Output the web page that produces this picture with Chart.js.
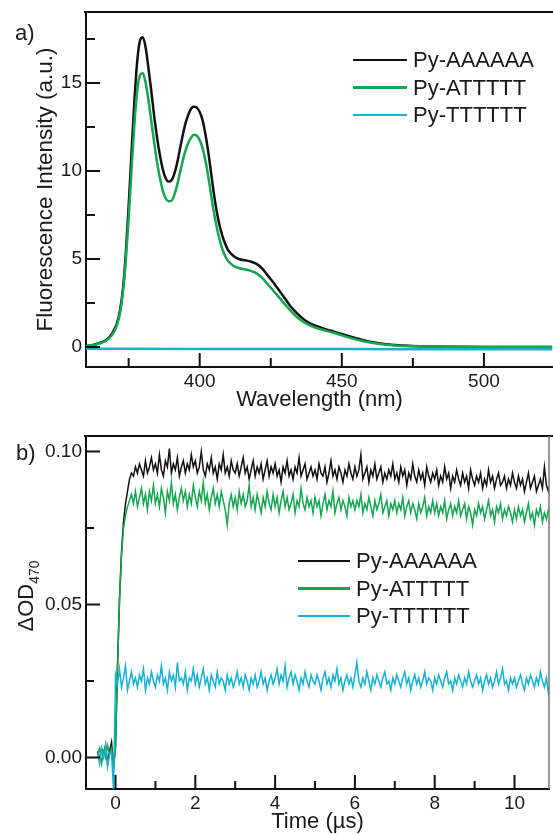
<!DOCTYPE html>
<html>
<head>
<meta charset="utf-8">
<script src="https://cdn.jsdelivr.net/npm/chart.js@4.4.1/dist/chart.umd.min.js"></script>
<style>
body { margin: 0; background: #fff; width: 553px; height: 834px; overflow: hidden; position: relative;
       font-family: "Liberation Sans", Arial, sans-serif; color: #1a1a1a; }
#boxA { position: absolute; left: 0; top: 0; width: 553px; height: 420px; }
#boxB { position: absolute; left: 0; top: 420px; width: 553px; height: 414px; }
.tag { position: absolute; font-size: 22px; line-height: 22px; }
.legend { position: absolute; font-size: 22px; line-height: 27px; }
.legend .row { display: flex; align-items: center; height: 27.5px; }
.legend .ln { display: inline-block; height: 2.5px; margin-right: 6px; }
</style>
</head>
<body>
<div id="boxA"><canvas id="chartA"></canvas></div>
<div id="boxB"><canvas id="chartB"></canvas></div>
<div class="tag" style="left:15px; top:22px;">a)</div>
<div class="tag" style="left:16px; top:442px;">b)</div>
<div class="legend" id="legendA" style="left:353px; top:46px;"></div>
<div class="legend" id="legendB" style="left:298px; top:547px;"></div>
<script>
// ---- panel a: fluorescence spectra ----
var wavelength = [360, 362, 364, 366, 368, 370, 371, 372, 373, 374, 375, 376, 377, 378, 379, 380,
    381, 382, 383, 384, 385, 386, 387, 388, 389, 390, 391, 392, 393, 394, 395, 396, 397, 398, 399, 400,
    401, 402, 403, 404, 405, 406, 407, 408, 409, 410, 412, 414, 416, 418, 420, 422, 424, 426, 428, 430,
    432, 434, 436, 438, 440, 442, 444, 446, 448, 450, 452, 455, 458, 461, 465, 470, 475, 480, 490, 500, 510, 524];
var flAAAAAA = [0.05, 0.10, 0.18, 0.30, 0.52, 1.0, 1.4, 2.1, 3.3, 5.3, 8.0, 11.0, 13.9, 16.2, 17.4, 17.6,
    17.0, 15.8, 14.5, 13.1, 11.9, 10.9, 10.1, 9.6, 9.4, 9.45, 9.8, 10.4, 11.2, 12.0, 12.7, 13.2, 13.55, 13.65, 13.6, 13.35,
    12.9, 12.1, 11.1, 9.9, 8.7, 7.7, 6.9, 6.3, 5.85, 5.5, 5.15, 4.98, 4.92, 4.85, 4.72, 4.45, 4.05, 3.65, 3.2, 2.75,
    2.3, 1.95, 1.65, 1.42, 1.25, 1.13, 1.02, 0.93, 0.83, 0.74, 0.64, 0.5, 0.37, 0.27, 0.17, 0.09, 0.05, 0.03, 0.01, 0.0, 0.0, 0.0];
var flATTTTT = [0.05, 0.09, 0.16, 0.27, 0.47, 0.9, 1.3, 1.95, 3.1, 4.9, 7.3, 10.0, 12.6, 14.5, 15.45, 15.55,
    15.0, 14.0, 12.8, 11.6, 10.5, 9.6, 8.9, 8.45, 8.28, 8.3, 8.6, 9.15, 9.85, 10.55, 11.15, 11.6, 11.9, 12.05, 12.0, 11.75,
    11.3, 10.6, 9.7, 8.65, 7.65, 6.8, 6.1, 5.55, 5.15, 4.88, 4.6, 4.47, 4.4, 4.32, 4.18, 3.92, 3.55, 3.18, 2.8, 2.42,
    2.05, 1.73, 1.47, 1.28, 1.14, 1.03, 0.93, 0.85, 0.76, 0.66, 0.56, 0.43, 0.31, 0.22, 0.14, 0.07, 0.04, 0.02, 0.01, 0.0, 0.0, 0.0];
var wavelengthT = [360, 400, 450, 500, 524];
var flTTTTTT = [-0.10, -0.12, -0.12, -0.13, -0.13];

var xTicksA = [400, 450, 500];
var xMinorA = [375, 425, 475];
var yTicksA = [0, 5, 10, 15];
var yMinorA = [2.5, 7.5, 12.5, 17.5];

// ---- panel b: transient absorption at 470 nm ----
var timeUs = [-0.45, -0.4, -0.35, -0.3, -0.25, -0.2, -0.15, -0.1, -0.05,
    0, 0.05, 0.1, 0.15, 0.2, 0.25, 0.3, 0.35, 0.4, 0.45, 0.5, 0.55, 0.6, 0.65, 0.7, 0.75, 0.8, 0.85, 0.9, 0.95,
    1, 1.05, 1.1, 1.15, 1.2, 1.25, 1.3, 1.35, 1.4, 1.45, 1.5, 1.55, 1.6, 1.65, 1.7, 1.75, 1.8, 1.85, 1.9, 1.95,
    2, 2.05, 2.1, 2.15, 2.2, 2.25, 2.3, 2.35, 2.4, 2.45, 2.5, 2.55, 2.6, 2.65, 2.7, 2.75, 2.8, 2.85, 2.9, 2.95,
    3, 3.05, 3.1, 3.15, 3.2, 3.25, 3.3, 3.35, 3.4, 3.45, 3.5, 3.55, 3.6, 3.65, 3.7, 3.75, 3.8, 3.85, 3.9, 3.95,
    4, 4.05, 4.1, 4.15, 4.2, 4.25, 4.3, 4.35, 4.4, 4.45, 4.5, 4.55, 4.6, 4.65, 4.7, 4.75, 4.8, 4.85, 4.9, 4.95,
    5, 5.05, 5.1, 5.15, 5.2, 5.25, 5.3, 5.35, 5.4, 5.45, 5.5, 5.55, 5.6, 5.65, 5.7, 5.75, 5.8, 5.85, 5.9, 5.95,
    6, 6.05, 6.1, 6.15, 6.2, 6.25, 6.3, 6.35, 6.4, 6.45, 6.5, 6.55, 6.6, 6.65, 6.7, 6.75, 6.8, 6.85, 6.9, 6.95,
    7, 7.05, 7.1, 7.15, 7.2, 7.25, 7.3, 7.35, 7.4, 7.45, 7.5, 7.55, 7.6, 7.65, 7.7, 7.75, 7.8, 7.85, 7.9, 7.95,
    8, 8.05, 8.1, 8.15, 8.2, 8.25, 8.3, 8.35, 8.4, 8.45, 8.5, 8.55, 8.6, 8.65, 8.7, 8.75, 8.8, 8.85, 8.9, 8.95,
    9, 9.05, 9.1, 9.15, 9.2, 9.25, 9.3, 9.35, 9.4, 9.45, 9.5, 9.55, 9.6, 9.65, 9.7, 9.75, 9.8, 9.85, 9.9, 9.95,
    10, 10.05, 10.1, 10.15, 10.2, 10.25, 10.3, 10.35, 10.4, 10.45, 10.5, 10.55, 10.6, 10.65, 10.7, 10.75, 10.8, 10.85, 10.9, 10.95];
var odAAAAAA = [0.002, -0.001, 0.003, 0.001, 0.004, -0.002, 0.002, 0.005, -0.003,
    0.004, 0.030, 0.052, 0.067, 0.077, 0.083, 0.087, 0.091, 0.093, 0.092, 0.095, 0.093, 0.096, 0.094, 0.092, 0.097, 0.093, 0.095, 0.098, 0.094,
    0.096, 0.093, 0.099, 0.094, 0.092, 0.097, 0.095, 0.101, 0.093, 0.096, 0.094, 0.098, 0.092, 0.095, 0.097, 0.093, 0.096, 0.094, 0.099, 0.095,
    0.097, 0.093, 0.095, 0.100, 0.094, 0.092, 0.096, 0.094, 0.098, 0.093, 0.095, 0.091, 0.096, 0.094, 0.099, 0.093, 0.095, 0.092, 0.097, 0.094,
    0.093, 0.096, 0.092, 0.095, 0.098, 0.093, 0.095, 0.091, 0.094, 0.097, 0.092, 0.095, 0.093, 0.096, 0.091, 0.094, 0.097, 0.092, 0.095, 0.093,
    0.096, 0.092, 0.094, 0.090, 0.095, 0.093, 0.097, 0.092, 0.094, 0.091, 0.095, 0.093, 0.098, 0.092, 0.094, 0.096, 0.091, 0.093, 0.095, 0.092,
    0.094, 0.091, 0.096, 0.093, 0.092, 0.095, 0.090, 0.093, 0.097, 0.092, 0.094, 0.091, 0.095, 0.093, 0.090, 0.094, 0.092, 0.096, 0.093, 0.091,
    0.095, 0.092, 0.094, 0.099, 0.091, 0.093, 0.095, 0.090, 0.094, 0.092, 0.096, 0.091, 0.093, 0.095, 0.090, 0.093, 0.091, 0.094, 0.092, 0.096,
    0.091, 0.093, 0.090, 0.095, 0.092, 0.094, 0.089, 0.093, 0.091, 0.096, 0.092, 0.090, 0.094, 0.091, 0.093, 0.089, 0.095, 0.092, 0.090, 0.093,
    0.091, 0.094, 0.089, 0.092, 0.090, 0.095, 0.091, 0.093, 0.088, 0.092, 0.090, 0.094, 0.091, 0.089, 0.093, 0.090, 0.092, 0.088, 0.094, 0.091,
    0.089, 0.092, 0.090, 0.093, 0.088, 0.091, 0.089, 0.094, 0.090, 0.092, 0.088, 0.091, 0.093, 0.089, 0.090, 0.092, 0.088, 0.091, 0.089, 0.093,
    0.090, 0.088, 0.092, 0.089, 0.091, 0.087, 0.090, 0.093, 0.088, 0.090, 0.092, 0.087, 0.089, 0.091, 0.088, 0.095, 0.089, 0.087, 0.090, 0.088];
var odATTTTT = [0.001, 0.003, -0.002, 0.002, 0.000, 0.004, 0.001, 0.003, -0.004,
    0.003, 0.029, 0.051, 0.066, 0.075, 0.079, 0.082, 0.084, 0.086, 0.083, 0.087, 0.082, 0.085, 0.088, 0.083, 0.086, 0.081, 0.087, 0.084, 0.089,
    0.083, 0.086, 0.082, 0.088, 0.085, 0.080, 0.087, 0.084, 0.090, 0.083, 0.086, 0.081, 0.085, 0.088, 0.084, 0.087, 0.082, 0.086, 0.083, 0.089,
    0.085, 0.082, 0.087, 0.084, 0.090, 0.083, 0.086, 0.081, 0.085, 0.088, 0.083, 0.086, 0.082, 0.087, 0.084, 0.081, 0.076, 0.083, 0.086, 0.082,
    0.085, 0.081, 0.087, 0.083, 0.086, 0.082, 0.084, 0.089, 0.082, 0.085, 0.081, 0.086, 0.083, 0.080, 0.085, 0.082, 0.087, 0.083, 0.081, 0.086,
    0.082, 0.085, 0.080, 0.084, 0.087, 0.082, 0.085, 0.081, 0.083, 0.086, 0.080, 0.084, 0.082, 0.088, 0.083, 0.081, 0.085, 0.082, 0.084, 0.080,
    0.085, 0.082, 0.084, 0.079, 0.083, 0.086, 0.081, 0.084, 0.082, 0.087, 0.080, 0.083, 0.085, 0.081, 0.084, 0.082, 0.079, 0.085, 0.082, 0.084,
    0.081, 0.084, 0.082, 0.086, 0.080, 0.083, 0.081, 0.085, 0.082, 0.079, 0.084, 0.081, 0.083, 0.086, 0.080, 0.082, 0.084, 0.079, 0.083, 0.081,
    0.084, 0.080, 0.083, 0.081, 0.085, 0.079, 0.082, 0.084, 0.080, 0.083, 0.081, 0.078, 0.083, 0.080, 0.082, 0.085, 0.079, 0.082, 0.080, 0.084,
    0.080, 0.083, 0.079, 0.082, 0.080, 0.084, 0.078, 0.081, 0.083, 0.079, 0.082, 0.080, 0.084, 0.079, 0.081, 0.083, 0.078, 0.082, 0.080, 0.076,
    0.081, 0.079, 0.083, 0.080, 0.082, 0.078, 0.081, 0.084, 0.079, 0.081, 0.077, 0.082, 0.080, 0.083, 0.078, 0.081, 0.079, 0.082, 0.080, 0.077,
    0.081, 0.078, 0.082, 0.079, 0.081, 0.077, 0.080, 0.083, 0.078, 0.080, 0.076, 0.081, 0.079, 0.082, 0.077, 0.080, 0.078, 0.081, 0.079, 0.080];
var odTTTTTT = [0.002, -0.002, 0.003, 0.000, 0.004, -0.003, 0.001, 0.002, -0.011,
    0.027, 0.024, 0.029, 0.023, 0.026, 0.030, 0.022, 0.025, 0.028, 0.024, 0.026, 0.023, 0.027, 0.025, 0.029, 0.022, 0.026, 0.024, 0.028, 0.025,
    0.023, 0.027, 0.025, 0.030, 0.024, 0.026, 0.022, 0.028, 0.025, 0.027, 0.023, 0.031, 0.025, 0.026, 0.024, 0.028, 0.022, 0.026, 0.025, 0.029,
    0.024, 0.027, 0.023, 0.026, 0.029, 0.024, 0.026, 0.022, 0.027, 0.025, 0.023, 0.028, 0.024, 0.026, 0.025, 0.022, 0.027, 0.024, 0.026, 0.023,
    0.025, 0.028, 0.024, 0.026, 0.023, 0.027, 0.025, 0.022, 0.026, 0.024, 0.027, 0.023, 0.025, 0.028, 0.024, 0.026, 0.022, 0.025, 0.027, 0.024,
    0.026, 0.029, 0.024, 0.027, 0.025, 0.030, 0.023, 0.026, 0.028, 0.024, 0.027, 0.025, 0.022, 0.026, 0.024, 0.028, 0.025, 0.023, 0.027, 0.025,
    0.024, 0.027, 0.025, 0.022, 0.026, 0.028, 0.024, 0.026, 0.023, 0.027, 0.025, 0.029, 0.024, 0.026, 0.022, 0.025, 0.027, 0.024, 0.026, 0.023,
    0.027, 0.031, 0.025, 0.023, 0.026, 0.024, 0.028, 0.025, 0.022, 0.026, 0.024, 0.027, 0.025, 0.023, 0.026, 0.028, 0.024, 0.025, 0.022, 0.026,
    0.024, 0.027, 0.025, 0.023, 0.026, 0.028, 0.024, 0.026, 0.022, 0.025, 0.027, 0.024, 0.026, 0.023, 0.025, 0.028, 0.024, 0.026, 0.025, 0.022,
    0.026, 0.024, 0.027, 0.025, 0.023, 0.026, 0.028, 0.024, 0.025, 0.022, 0.026, 0.024, 0.027, 0.025, 0.023, 0.026, 0.024, 0.028, 0.025, 0.023,
    0.025, 0.027, 0.024, 0.026, 0.022, 0.025, 0.027, 0.024, 0.026, 0.023, 0.025, 0.028, 0.024, 0.026, 0.029, 0.024, 0.025, 0.022, 0.026, 0.024,
    0.026, 0.023, 0.025, 0.027, 0.024, 0.022, 0.026, 0.024, 0.027, 0.025, 0.023, 0.026, 0.024, 0.028, 0.025, 0.023, 0.026, 0.021, 0.025, 0.024];

var xTicksB = [0, 2, 4, 6, 8, 10];
var xMinorB = [1, 3, 5, 7, 9];
var yTicksB = [0.00, 0.05, 0.10];
var yMinorB = [0.025, 0.075];

var seriesNames = ['Py-AAAAAA', 'Py-ATTTTT', 'Py-TTTTTT'];
var seriesColors = ['#111111', '#14a651', '#17b1d2'];

var fontFamily = '"Liberation Sans", Arial, Helvetica, sans-serif';
Chart.defaults.font.family = fontFamily;
Chart.defaults.color = '#1a1a1a';

function ToPoints(xs, ys) {
    var pts = [];
    for (var i = 0; i < xs.length; i++) {
        pts.push({x: xs[i], y: ys[i]});
    }
    return pts;
}

// inward ticks, top frame line (and right border for b)
const frameTicks = {
    id: 'frameTicks',
    afterDatasetsDraw(chart, args, o) {
        const ctx = chart.ctx;
        const a = chart.chartArea;
        const sx = chart.scales.x, sy = chart.scales.y;
        ctx.save();
        ctx.strokeStyle = '#111';
        ctx.lineWidth = 2;
        ctx.beginPath();
        ctx.moveTo(a.left - 2, a.top);
        ctx.lineTo(chart.width, a.top);
        for (const v of o.xMajor) { const p = sx.getPixelForValue(v); ctx.moveTo(p, a.bottom); ctx.lineTo(p, a.bottom - o.major); }
        for (const v of o.xMinor) { const p = sx.getPixelForValue(v); ctx.moveTo(p, a.bottom); ctx.lineTo(p, a.bottom - o.minor); }
        for (const v of o.yMajor) { const p = sy.getPixelForValue(v); ctx.moveTo(a.left, p); ctx.lineTo(a.left + o.major, p); }
        for (const v of o.yMinor) { const p = sy.getPixelForValue(v); ctx.moveTo(a.left, p); ctx.lineTo(a.left + o.minor, p); }
        ctx.stroke();
        if (o.rightBorder) {
            ctx.strokeStyle = '#777';
            ctx.lineWidth = 1.5;
            ctx.beginPath();
            ctx.moveTo(a.right, a.top);
            ctx.lineTo(a.right, a.bottom);
            ctx.stroke();
        }
        ctx.restore();
    }
};

// y title with a subscript (ΔOD470), rotated like an axis title
const subTitle = {
    id: 'subTitle',
    afterDraw(chart, args, o) {
        const ctx = chart.ctx;
        ctx.save();
        ctx.translate(0, o.y);
        ctx.rotate(-Math.PI / 2);
        ctx.fillStyle = '#1a1a1a';
        ctx.textBaseline = 'alphabetic';
        ctx.font = o.size + 'px ' + fontFamily;
        const w1 = ctx.measureText(o.text).width;
        ctx.font = o.subSize + 'px ' + fontFamily;
        const w2 = ctx.measureText(o.sub).width;
        const start = -(w1 + w2) / 2;
        ctx.font = o.size + 'px ' + fontFamily;
        ctx.fillText(o.text, start, o.base);
        ctx.font = o.subSize + 'px ' + fontFamily;
        ctx.fillText(o.sub, start + w1, o.subBase);
        ctx.restore();
    }
};

function MakeLegend(chart, boxId, lineWidth) {
    var box = document.getElementById(boxId);
    for (var ds of chart.data.datasets) {
        var row = document.createElement('div');
        row.className = 'row';
        var ln = document.createElement('span');
        ln.className = 'ln';
        ln.style.width = lineWidth + 'px';
        ln.style.background = ds.borderColor;
        var tx = document.createElement('span');
        tx.textContent = ds.label;
        row.append(ln, tx);
        box.append(row);
    }
}

var axisBorder = {display: true, width: 2, color: '#111'};

var chartA = new Chart(document.getElementById('chartA'), {
    type: 'line',
    data: {
        datasets: [
            {label: seriesNames[0], data: ToPoints(wavelength, flAAAAAA), borderColor: seriesColors[0], borderWidth: 2.5, order: 3},
            {label: seriesNames[1], data: ToPoints(wavelength, flATTTTT), borderColor: seriesColors[1], borderWidth: 2.5, order: 2},
            {label: seriesNames[2], data: ToPoints(wavelengthT, flTTTTTT), borderColor: seriesColors[2], borderWidth: 2.5, order: 1}
        ]
    },
    options: {
        responsive: true,
        maintainAspectRatio: false,
        animation: false,
        layout: {padding: {top: 12, right: 0, left: 0, bottom: 0}},
        elements: {point: {radius: 0}, line: {cubicInterpolationMode: 'monotone'}},
        scales: {
            x: {
                type: 'linear', min: 360, max: 524.3,
                grid: {display: false}, border: axisBorder,
                afterBuildTicks: s => { s.ticks = xTicksA.map(v => ({value: v})); },
                afterFit: s => { s.height = 53; },
                ticks: {font: {size: 19}, padding: -4.5, maxRotation: 0},
                title: {display: true, text: 'Wavelength (nm)', font: {size: 22}, padding: {top: 0, bottom: 7}}
            },
            y: {
                type: 'linear', min: -1.14, max: 19.03,
                grid: {display: false}, border: axisBorder,
                afterBuildTicks: s => { s.ticks = yTicksA.map(v => ({value: v})); },
                afterFit: s => { s.width = 86; },
                ticks: {font: {size: 19}, padding: -4},
                title: {display: true, text: 'Fluorescence Intensity (a.u.)', font: {size: 22.5}, padding: {top: 32, bottom: 0}}
            }
        },
        plugins: {
            legend: {display: false},
            tooltip: {enabled: false},
            frameTicks: {xMajor: xTicksA, xMinor: xMinorA, yMajor: yTicksA, yMinor: yMinorA, major: 14, minor: 9, rightBorder: false}
        }
    },
    plugins: [frameTicks]
});

var chartB = new Chart(document.getElementById('chartB'), {
    type: 'line',
    data: {
        datasets: [
            {label: seriesNames[0], data: ToPoints(timeUs, odAAAAAA), borderColor: seriesColors[0], borderWidth: 1.5, order: 3},
            {label: seriesNames[1], data: ToPoints(timeUs, odATTTTT), borderColor: seriesColors[1], borderWidth: 1.5, order: 2},
            {label: seriesNames[2], data: ToPoints(timeUs, odTTTTTT), borderColor: seriesColors[2], borderWidth: 1.5, order: 1}
        ]
    },
    options: {
        responsive: true,
        maintainAspectRatio: false,
        animation: false,
        layout: {padding: {top: 16, right: 4, left: 0, bottom: 0}},
        elements: {point: {radius: 0}, line: {tension: 0}},
        scales: {
            x: {
                type: 'linear', min: -0.74, max: 10.865,
                grid: {display: false}, border: axisBorder,
                afterBuildTicks: s => { s.ticks = xTicksB.map(v => ({value: v})); },
                afterFit: s => { s.height = 45; },
                ticks: {font: {size: 19}, padding: -5, maxRotation: 0},
                title: {display: true, text: 'Time (\u00b5s)', font: {size: 22}, padding: {top: 0, bottom: -1.5}}
            },
            y: {
                type: 'linear', min: -0.0103, max: 0.1051,
                grid: {display: false}, border: axisBorder,
                afterBuildTicks: s => { s.ticks = yTicksB.map(v => ({value: v})); },
                afterFit: s => { s.width = 86; },
                ticks: {font: {size: 19}, padding: -4, callback: v => v.toFixed(2)},
                title: {display: false}
            }
        },
        plugins: {
            legend: {display: false},
            tooltip: {enabled: false},
            frameTicks: {xMajor: xTicksB, xMinor: xMinorB, yMajor: yTicksB, yMinor: yMinorB, major: 14, minor: 8, rightBorder: true},
            subTitle: {text: '\u0394OD', sub: '470', size: 22, subSize: 14, y: 176, base: 33, subBase: 38.5}
        }
    },
    plugins: [frameTicks, subTitle]
});

MakeLegend(chartA, 'legendA', 54);
MakeLegend(chartB, 'legendB', 52);
</script>
</body>
</html>
